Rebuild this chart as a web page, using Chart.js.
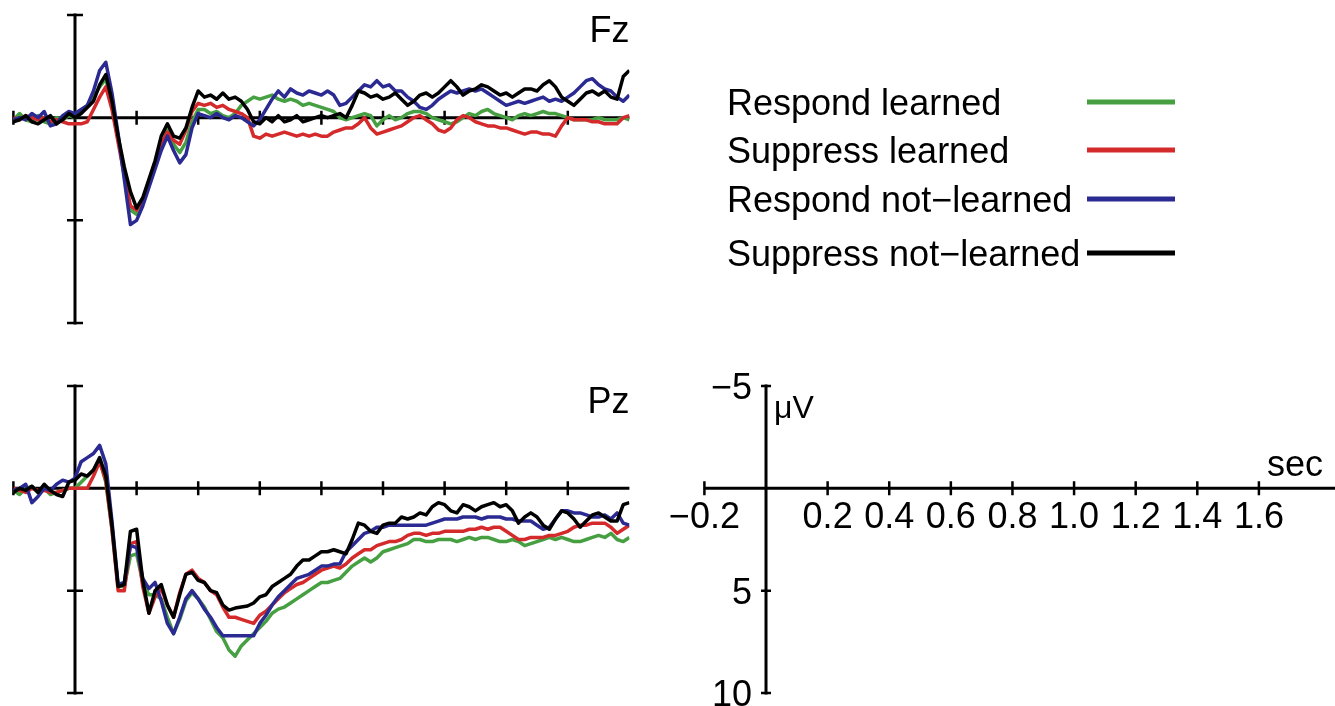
<!DOCTYPE html>
<html>
<head>
<meta charset="utf-8">
<script src="https://cdn.jsdelivr.net/npm/chart.js@4"></script>
<style>
  html, body { margin: 0; padding: 0; background: #fff; }
  body { width: 1335px; height: 706px; position: relative; overflow: hidden; }
  canvas { position: absolute; left: 0; top: 0; }
</style>
</head>
<body>
<canvas id="fzChart" width="1335" height="706"></canvas>
<canvas id="pzChart" width="1335" height="706"></canvas>
<canvas id="scaleChart" width="1335" height="706"></canvas>
<script>
// time points (sec), every 20 ms from -0.2 to 1.8
const times = [
  -0.2, -0.18, -0.16, -0.14, -0.12, -0.1, -0.08, -0.06, -0.04, -0.02,
  0, 0.02, 0.04, 0.06, 0.08, 0.1, 0.12, 0.14, 0.16, 0.18,
  0.2, 0.22, 0.24, 0.26, 0.28, 0.3, 0.32, 0.34, 0.36, 0.38,
  0.4, 0.42, 0.44, 0.46, 0.48, 0.5, 0.52, 0.54, 0.56, 0.58,
  0.6, 0.62, 0.64, 0.66, 0.68, 0.7, 0.72, 0.74, 0.76, 0.78,
  0.8, 0.82, 0.84, 0.86, 0.88, 0.9, 0.92, 0.94, 0.96, 0.98,
  1.0, 1.02, 1.04, 1.06, 1.08, 1.1, 1.12, 1.14, 1.16, 1.18,
  1.2, 1.22, 1.24, 1.26, 1.28, 1.3, 1.32, 1.34, 1.36, 1.38,
  1.4, 1.42, 1.44, 1.46, 1.48, 1.5, 1.52, 1.54, 1.56, 1.58,
  1.6, 1.62, 1.64, 1.66, 1.68, 1.7, 1.72, 1.74, 1.76, 1.78,
  1.8
];

const conditions = ['Respond learned', 'Suppress learned', 'Respond not\u2212learned', 'Suppress not\u2212learned'];
const colors = ['#46a042', '#d42a2c', '#2a2a92', '#000000'];

// Fz (µV, negative up)
const fzRespondLearned = [
  0.1, -0.2, 0.1, 0.2, -0.1, 0.2, 0.3, 0.0, 0.1, -0.1,
  0.0, -0.3, -0.6, -1.0, -1.5, -1.9, -0.6, 1.0, 2.6, 4.5,
  4.7, 4.2, 3.3, 2.4, 1.5, 0.6, 1.3, 1.7, 1.2, 0.2,
  -0.4, -0.4, -0.2, -0.3, -0.1, 0.0, -0.2, -0.6, -0.8, -1.0,
  -0.9, -1.0, -1.1, -0.9, -0.8, -0.9, -0.8, -0.6, -0.7, -0.6,
  -0.5, -0.4, -0.3, 0.0, 0.1, 0.0, -0.1, -0.2, -0.1, 0.4,
  0.1, -0.1, 0.1, 0.0, -0.2, -0.3, -0.3, -0.2, 0.0, 0.1,
  0.2, 0.3, 0.2, 0.0, -0.2, -0.1, -0.3, -0.4, -0.2, -0.1,
  0.0, 0.1, -0.1, -0.2, -0.1, -0.2, -0.3, -0.2, -0.2, -0.1,
  0.0, 0.1, 0.1, 0.1, 0.1, 0.0, 0.1, 0.1, 0.1, 0.0,
  0.1
];
const fzSuppressLearned = [
  0.0, 0.1, -0.1, 0.0, 0.1, 0.0, 0.2, 0.1, 0.2, 0.3,
  0.3, 0.3, 0.2, -0.4, -1.0, -1.5, -0.4, 1.2, 2.8, 4.3,
  4.5, 4.0, 3.1, 2.2, 1.3, 0.7, 1.1, 1.3, 0.6, -0.3,
  -0.7, -0.6, -0.7, -0.5, -0.6, -0.4, -0.3, -0.2, 0.0, 0.9,
  1.0, 0.8, 0.9, 0.8, 0.7, 0.8, 0.9, 0.8, 0.9, 0.8,
  0.9, 0.9, 0.7, 0.6, 0.5, 0.5, 0.3, 0.0, 0.5, 0.8,
  0.7, 0.6, 0.5, 0.4, 0.2, 0.0, -0.1, 0.1, 0.3, 0.6,
  0.7, 0.5, 0.1, -0.1, 0.0, 0.2, 0.3, 0.4, 0.4, 0.5,
  0.5, 0.6, 0.7, 0.8, 0.7, 0.7, 0.8, 0.8, 0.9, 0.4,
  0.0, 0.1, 0.1, 0.1, 0.2, 0.2, 0.3, 0.3, 0.3, 0.0,
  -0.1
];
const fzRespondNotLearned = [
  0.1, 0.0, 0.1, -0.2, 0.0, -0.3, 0.4, 0.3, -0.1, -0.3,
  -0.2, -0.4, -0.6, -1.3, -2.3, -2.7, -1.2, 0.8, 3.0, 5.2,
  5.0, 4.3, 3.4, 2.5, 1.6, 0.9, 1.6, 2.2, 1.8, 0.5,
  -0.2, -0.1, 0.0, -0.2, 0.0, 0.1, -0.1, 0.0, 0.2, 0.4,
  0.1, -0.4, -0.9, -1.3, -1.0, -1.4, -1.2, -1.1, -1.3, -1.2,
  -1.1, -1.3, -1.1, -0.6, -0.7, -1.0, -1.3, -1.6, -1.5, -1.8,
  -1.5, -1.6, -1.3, -1.3, -1.0, -0.8, -0.5, -0.4, -0.6, -0.9,
  -1.1, -1.3, -1.2, -1.3, -1.4, -1.3, -1.4, -1.2, -1.0, -0.8,
  -0.6, -0.7, -0.8, -0.7, -0.8, -0.9, -1.0, -0.8, -0.9, -0.8,
  -1.0, -1.2, -1.5, -1.8, -1.9, -1.6, -1.4, -1.3, -1.0, -0.8,
  -1.1
];
const fzSuppressNotLearned = [
  0.2, 0.1, -0.1, 0.2, 0.3, 0.1, -0.1, 0.3, 0.1, -0.2,
  0.0, -0.2, -0.5, -0.8, -1.6, -2.1, -0.8, 0.9, 2.4, 3.6,
  4.4, 3.9, 3.0, 2.1, 0.9, 0.3, 0.9, 1.0, 0.5, -0.5,
  -1.3, -1.0, -1.1, -0.9, -1.2, -0.9, -1.0, -0.8, -0.4, 0.2,
  0.3, 0.0, 0.2, -0.1, 0.2, 0.1, -0.1, 0.2, 0.1, 0.0,
  -0.1, 0.0, -0.1, -0.2, 0.0, -0.6, -1.3, -1.2, -1.0, -1.1,
  -0.9, -1.0, -1.2, -0.9, -0.6, -0.8, -1.1, -1.2, -1.0, -1.2,
  -1.5, -1.8, -1.5, -1.1, -1.3, -1.4, -1.6, -1.5, -1.3, -1.1,
  -1.2, -1.0, -1.2, -1.4, -1.4, -1.3, -1.6, -1.8, -1.5, -1.0,
  -0.8, -0.6, -0.9, -1.2, -1.3, -1.1, -1.3, -1.0, -0.9, -2.0,
  -2.3
];

// Pz (µV, negative up)
const pzRespondLearned = [
  0.1, 0.3, 0.0, -0.1, 0.2, 0.0, 0.3, 0.2, 0.1, 0.0,
  0.0, -0.3, -0.6, -0.9, -1.4, -0.3, 2.0, 4.8, 4.8, 3.3,
  3.2, 4.6, 5.2, 5.2, 5.4, 6.3, 7.1, 6.4, 5.5, 5.1,
  5.4, 5.8, 6.4, 7.0, 7.3, 7.9, 8.2, 7.7, 7.4, 7.1,
  6.8, 6.5, 6.1, 5.9, 5.8, 5.6, 5.4, 5.2, 5.0, 4.8,
  4.6, 4.6, 4.5, 4.4, 4.1, 3.8, 3.6, 3.4, 3.6, 3.4,
  3.1, 3.0, 2.9, 2.8, 2.7, 2.5, 2.5, 2.6, 2.6, 2.5,
  2.5, 2.5, 2.6, 2.5, 2.4, 2.5, 2.4, 2.4, 2.5, 2.6,
  2.6, 2.5, 2.6, 2.8, 2.7, 2.6, 2.5, 2.4, 2.5, 2.4,
  2.5, 2.6, 2.6, 2.5, 2.4, 2.3, 2.4, 2.2, 2.5, 2.6,
  2.4
];
const pzSuppressLearned = [
  0.0, 0.1, 0.2, 0.0, 0.1, 0.1, 0.2, 0.2, 0.1, 0.0,
  0.0, 0.0, 0.0, -0.6, -1.3, -0.4, 2.0, 5.0, 5.0, 2.7,
  2.6, 4.8, 6.1, 5.3, 4.9, 5.7, 6.3, 5.1, 4.2, 4.0,
  4.4, 4.6, 5.0, 5.2, 5.8, 6.3, 6.3, 6.4, 6.5, 6.6,
  6.2, 6.0, 5.7, 5.4, 5.1, 4.9, 4.7, 4.6, 4.4, 4.2,
  4.0, 3.9, 3.8, 3.9, 3.7, 3.4, 3.2, 3.0, 3.0, 2.8,
  2.7, 2.6, 2.6, 2.5, 2.3, 2.2, 2.2, 2.3, 2.2, 2.2,
  2.1, 2.1, 2.1, 2.1, 2.0, 2.0, 1.9, 2.0, 1.9, 1.9,
  2.1, 2.3, 2.5, 2.5, 2.4, 2.4, 2.4, 2.3, 2.3, 2.2,
  2.1, 1.9, 1.8, 1.8, 1.7, 1.7, 1.7, 1.9, 2.2, 2.0,
  1.8
];
const pzRespondNotLearned = [
  0.1, 0.0, -0.2, 0.7, 0.4, 0.0, 0.1, -0.2, -0.4, -0.3,
  -0.5, -1.3, -1.5, -1.7, -2.1, -1.2, 1.6, 4.7, 4.6, 2.8,
  2.9, 4.4, 4.9, 4.6, 5.5, 6.6, 7.1, 6.3, 5.4, 5.0,
  5.4, 5.9, 6.3, 6.8, 7.2, 7.2, 7.2, 7.2, 7.2, 7.2,
  6.6, 6.2, 5.7, 5.3, 5.0, 4.7, 4.4, 4.3, 4.2, 4.0,
  3.8, 3.8, 3.7, 3.7, 3.1, 2.8, 2.5, 2.2, 2.1, 1.9,
  1.9, 1.8, 1.8, 1.8, 1.8, 1.8, 1.8, 1.8, 1.7, 1.6,
  1.5, 1.5, 1.5, 1.4, 1.4, 1.4, 1.5, 1.4, 1.4, 1.4,
  1.5, 1.5, 1.6, 1.6, 1.6, 1.8, 2.0, 1.9, 1.5, 1.1,
  1.1, 1.2, 1.2, 1.3, 1.4, 1.4, 1.3, 1.5, 1.2, 1.7,
  1.8
];
const pzSuppressNotLearned = [
  0.2, 0.0, 0.1, -0.1, 0.2, -0.2, 0.1, 0.3, 0.4, -0.3,
  -0.4, -0.7, -0.6, -0.9, -1.5, -0.6, 1.8, 4.8, 4.7, 2.1,
  2.0, 4.5, 6.1, 5.0, 4.7, 5.7, 6.3, 5.2, 4.2, 4.1,
  4.5, 4.6, 5.0, 5.1, 5.7, 5.95, 5.85, 5.8, 5.75, 5.6,
  5.3, 5.2, 4.8, 4.6, 4.4, 4.2, 3.8, 3.5, 3.5, 3.3,
  3.1, 3.1, 3.0, 3.1, 3.2, 2.5, 1.7, 1.8, 2.1, 2.2,
  1.8, 1.7, 1.7, 1.4, 1.5, 1.4, 1.2, 1.3, 0.9, 0.7,
  0.8, 1.1, 1.2, 0.8, 0.9, 1.1, 0.9, 0.8, 0.7, 0.9,
  0.8, 1.1, 1.7, 1.4, 1.2, 1.4, 1.8, 2.0, 1.5, 1.1,
  1.2, 1.5, 1.9, 1.6, 1.3, 1.2, 1.4, 1.6, 1.6, 0.8,
  0.7
];

// axis ticks
const timeTicks = [-0.2, 0.2, 0.4, 0.6, 0.8, 1.0, 1.2, 1.4, 1.6];
const timeTickLabels = ['\u22120.2', '0.2', '0.4', '0.6', '0.8', '1.0', '1.2', '1.4', '1.6'];
const voltTicks = [-5, 5, 10];
const voltTickLabels = ['\u22125', '5', '10'];

const W = 1335, H = 706;
const FONT = '"Liberation Sans", Arial, Helvetica, sans-serif';

function toPoints(values) {
  return times.map((t, i) => ({ x: t, y: values[i] }));
}

function buildDatasets(series) {
  // black drawn on top, green at the bottom
  return series.map((values, i) => ({
    label: conditions[i],
    data: toPoints(values),
    borderColor: colors[i],
    borderWidth: 3.5,
    pointRadius: 0,
    tension: 0,
    borderJoinStyle: 'round',
    order: series.length - 1 - i
  }));
}

// crossing axes drawn at t = 0 and 0 µV
const erpAxes = {
  id: 'erpAxes',
  beforeDatasetsDraw(chart, args, opts) {
    const ctx = chart.ctx;
    const x = chart.scales.x, y = chart.scales.y;
    const x0 = x.getPixelForValue(0);
    const y0 = y.getPixelForValue(0);
    ctx.save();
    ctx.strokeStyle = '#000';
    ctx.lineCap = 'butt';
    ctx.lineWidth = 3;
    ctx.beginPath();
    ctx.moveTo(x0, y.getPixelForValue(-5) - 1.5);
    ctx.lineTo(x0, y.getPixelForValue(10) + 1.5);
    ctx.moveTo(x.getPixelForValue(-0.2), y0);
    ctx.lineTo(x.right, y0);
    ctx.stroke();

    ctx.lineWidth = 2.5;
    ctx.beginPath();
    voltTicks.forEach(v => {
      const py = y.getPixelForValue(v);
      ctx.moveTo(x0 - opts.yTick, py);
      ctx.lineTo(x0 + opts.yTick, py);
    });
    timeTicks.forEach(t => {
      const px = x.getPixelForValue(t);
      ctx.moveTo(px, y0 - 7);
      ctx.lineTo(px, y0 + 7);
    });
    ctx.stroke();

    ctx.fillStyle = '#000';
    if (opts.title) {
      ctx.font = '36px ' + FONT;
      ctx.textAlign = 'right';
      ctx.textBaseline = 'alphabetic';
      ctx.fillText(opts.title, x.right, y.getPixelForValue(-5) + 27);
    }
    if (opts.labels) {
      ctx.font = '36px ' + FONT;
      ctx.textBaseline = 'alphabetic';
      ctx.textAlign = 'center';
      timeTicks.forEach((t, i) => {
        ctx.fillText(timeTickLabels[i], x.getPixelForValue(t), y0 + 40);
      });
      ctx.textAlign = 'right';
      voltTicks.forEach((v, i) => {
        ctx.fillText(voltTickLabels[i], x0 - 14, y.getPixelForValue(v) + 13);
      });
      ctx.textAlign = 'left';
      ctx.font = '32px ' + FONT;
      ctx.fillText('\u03bcV', x0 + 8, y.getPixelForValue(-5) + 32);
      ctx.font = '36px ' + FONT;
      ctx.textAlign = 'right';
      ctx.fillText('sec', W - 12, y0 - 12);
    }
    ctx.restore();
  }
};

// legend: text on the left, line sample on the right
const sideLegend = {
  id: 'sideLegend',
  afterDraw(chart, args, opts) {
    if (!opts.show) return;
    const ctx = chart.ctx;
    ctx.save();
    ctx.font = '36px ' + FONT;
    ctx.textAlign = 'left';
    ctx.textBaseline = 'alphabetic';
    chart.data.datasets.forEach((ds, i) => {
      const ly = opts.rows[i];
      ctx.fillStyle = '#000';
      ctx.fillText(ds.label, opts.textX, ly + 13);
      ctx.strokeStyle = ds.borderColor;
      ctx.lineWidth = 5;
      ctx.beginPath();
      ctx.moveTo(opts.lineX1, ly);
      ctx.lineTo(opts.lineX2, ly);
      ctx.stroke();
    });
    ctx.restore();
  }
};

function makeChart(id, area, xMax, datasets, axesOpts, legendOpts) {
  return new Chart(document.getElementById(id), {
    type: 'line',
    data: { datasets: datasets },
    options: {
      responsive: false,
      animation: false,
      events: [],
      layout: {
        padding: { left: area.left, top: area.top, right: W - area.right, bottom: H - area.bottom }
      },
      scales: {
        x: { type: 'linear', min: -0.2, max: xMax, display: false },
        y: { type: 'linear', min: -5, max: 10, reverse: true, display: false }
      },
      plugins: {
        legend: { display: false },
        tooltip: { enabled: false },
        erpAxes: axesOpts,
        sideLegend: legendOpts || { show: false }
      }
    },
    plugins: [erpAxes, sideLegend]
  });
}

makeChart('fzChart', { left: 13.4, right: 629.4, top: 15, bottom: 323 }, 1.8,
  buildDatasets([fzRespondLearned, fzSuppressLearned, fzRespondNotLearned, fzSuppressNotLearned]),
  { title: 'Fz', yTick: 8, labels: false },
  { show: true, textX: 727, lineX1: 1087, lineX2: 1175, rows: [102, 150, 199, 253] });

makeChart('pzChart', { left: 13.4, right: 629.4, top: 386, bottom: 693 }, 1.8,
  buildDatasets([pzRespondLearned, pzSuppressLearned, pzRespondNotLearned, pzSuppressNotLearned]),
  { title: 'Pz', yTick: 8, labels: false });

makeChart('scaleChart', { left: 704.4, right: 1335, top: 386, bottom: 693 }, 1.847,
  [], { title: '', yTick: 5, labels: true });
</script>
</body>
</html>
